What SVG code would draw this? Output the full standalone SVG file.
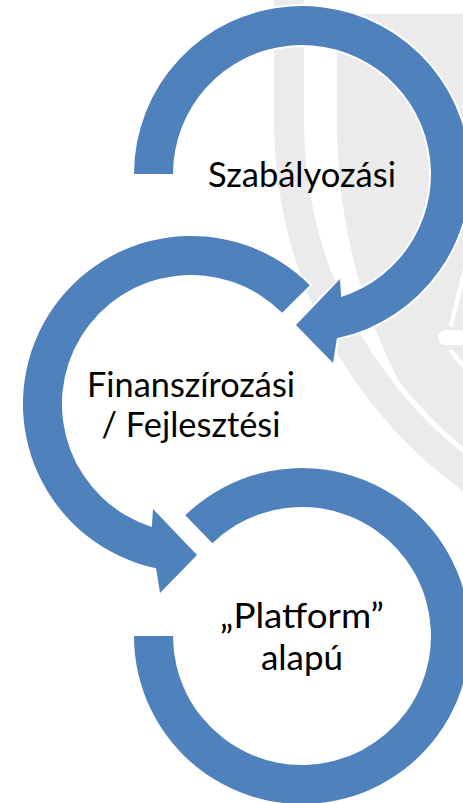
<svg xmlns="http://www.w3.org/2000/svg" width="463" height="803" viewBox="0 0 463 803">
  <style>
    .wm { fill: #EBEBEB; }
    .wm-cut { fill: #FFFFFF; }
    .wm-line { stroke: #FFFFFF; stroke-width: 4; stroke-linecap: round; fill: none; }
    .ring { fill: #4F81BD; stroke: #FFFFFF; stroke-width: 4; paint-order: stroke; stroke-linejoin: miter; }
    .label { font-family: Lato, "Liberation Sans", sans-serif; font-size: 35px; fill: #000000; text-anchor: middle; }
  </style>
  <rect x="0" y="0" width="463" height="803" fill="#FFFFFF"/>

  <g id="watermark">
    <path class="wm" d="M 274,-5 L 274,122 A 455 455 0 0 0 470,496 L 470,14 L 304,14 L 304,-5 Z"/>
    <path class="wm-cut" d="M 304,-5 L 304,122 A 425 425 0 0 0 470,459 L 470,452.6 A 420 420 0 0 1 398,380 A 576 576 0 0 1 337,122 L 337,-5 Z"/>
    <line class="wm-line" x1="466" y1="265" x2="451" y2="325"/>
    <rect x="438" y="330" width="40" height="15" rx="7.5" fill="#FFFFFF"/>
    <line class="wm-line" x1="451" y1="351" x2="466" y2="369"/>
  </g>

  <g id="connectors">
    <path id="arrow-1" class="ring" d="M 134,174 A 168 168 0 1 1 336.9,338.3 L 333,363 L 296,325 L 340,279 L 341.2,296.9 A 129 129 0 1 0 173,174 Z"/>
    <path id="arrow-2" class="ring" d="M 309.8,285.2 A 168 168 0 1 0 156.1,568.3 L 160,593 L 197,555 L 153,509 L 151.8,526.9 A 129 129 0 1 1 282.2,312.8 Z"/>
    <path id="arrow-3" class="ring" d="M 134,636 A 168 168 0 1 0 185.3,515.2 L 212.4,543.2 A 129 129 0 1 1 173,636 Z"/>
  </g>

  <g id="node-szabalyozasi">
    <text class="label" x="302" y="187" textLength="188" lengthAdjust="spacingAndGlyphs">Szabályozási</text>
  </g>
  <g id="node-finanszirozasi">
    <text class="label" x="191" y="397" textLength="208" lengthAdjust="spacingAndGlyphs">Finanszírozási</text>
    <text class="label" x="191" y="437" textLength="179" lengthAdjust="spacingAndGlyphs">/ Fejlesztési</text>
  </g>
  <g id="node-platform">
    <text class="label" x="302" y="628" textLength="164" lengthAdjust="spacingAndGlyphs">„Platform”</text>
    <text class="label" x="302" y="670" textLength="82" lengthAdjust="spacingAndGlyphs">alapú</text>
  </g>
</svg>
